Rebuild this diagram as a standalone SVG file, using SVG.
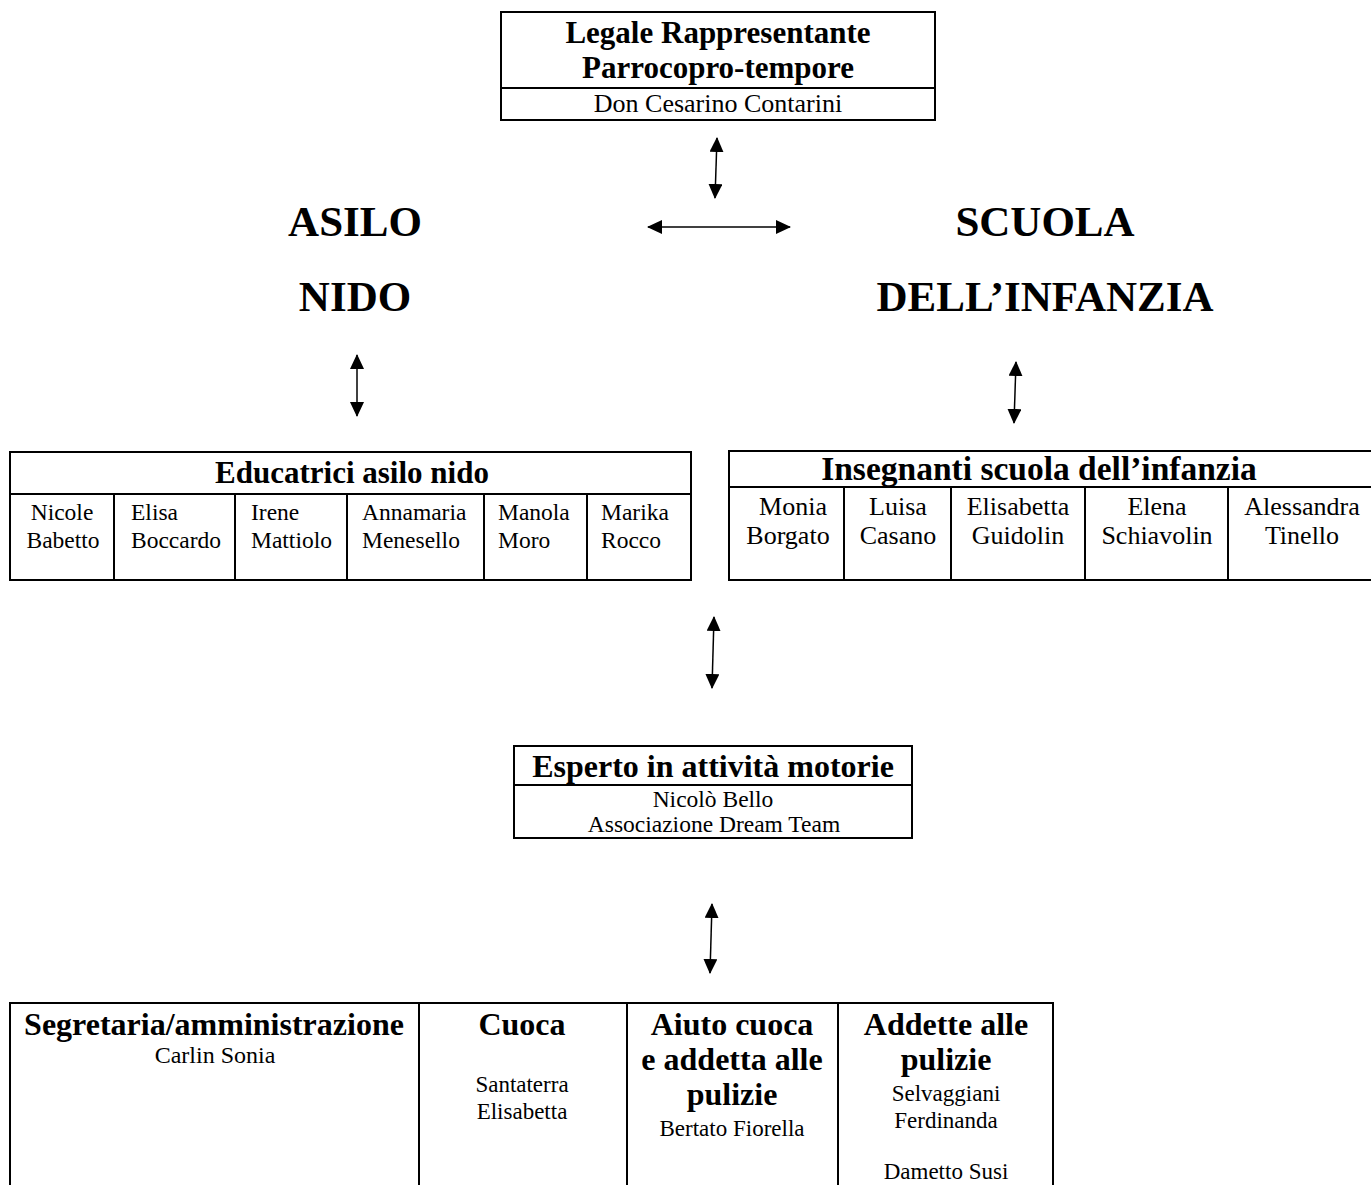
<svg xmlns="http://www.w3.org/2000/svg" width="1371" height="1185" viewBox="0 0 1371 1185">
<defs>
<style>
.box{fill:#fff;stroke:#000;stroke-width:2}
.ln{stroke:#000;stroke-width:2;fill:none}
.t{font-family:"Liberation Serif","Times New Roman",serif;fill:#000}
.b{font-weight:bold}
.h1{font-size:43px;font-weight:bold}
.h2{font-size:32px;font-weight:bold}
.c{text-anchor:middle}
.con{stroke:#000;stroke-width:1.5;fill:none;marker-start:url(#ah);marker-end:url(#ah)}
</style>
<marker id="ah" viewBox="0 0 15 14" refX="14" refY="7" markerWidth="15" markerHeight="14" markerUnits="userSpaceOnUse" orient="auto-start-reverse">
<path d="M0,0 L15,7 L0,14 z" fill="#000"/>
</marker>
</defs>

<g id="legale">
<rect class="box" x="501" y="12" width="434" height="108"/>
<line class="ln" x1="501" y1="88" x2="935" y2="88"/>
<text class="t b c" style="font-size:31px" x="718" y="43">Legale Rappresentante</text>
<text class="t b c" style="font-size:31px" x="718" y="78">Parrocopro-tempore</text>
<text class="t c" style="font-size:26px" x="718" y="112">Don Cesarino Contarini</text>
</g>

<g id="asilo">
<text class="t h1 c" x="355" y="236">ASILO</text>
<text class="t h1 c" x="355" y="311">NIDO</text>
</g>

<g id="scuola">
<text class="t h1 c" x="1045" y="236">SCUOLA</text>
<text class="t h1 c" x="1045" y="311">DELL’INFANZIA</text>
</g>

<g id="educatrici" style="font-size:23.5px">
<rect class="box" x="10" y="452" width="681" height="128"/>
<line class="ln" x1="10" y1="494" x2="691" y2="494"/>
<line class="ln" x1="114" y1="494" x2="114" y2="580"/>
<line class="ln" x1="235" y1="494" x2="235" y2="580"/>
<line class="ln" x1="347" y1="494" x2="347" y2="580"/>
<line class="ln" x1="484" y1="494" x2="484" y2="580"/>
<line class="ln" x1="587" y1="494" x2="587" y2="580"/>
<text class="t b c" style="font-size:31px" x="352" y="483">Educatrici asilo nido</text>
<text class="t c" x="62" y="520">Nicole</text>
<text class="t c" x="63" y="548">Babetto</text>
<text class="t" x="131" y="520">Elisa</text>
<text class="t" x="131" y="548">Boccardo</text>
<text class="t" x="251" y="520">Irene</text>
<text class="t" x="251" y="548">Mattiolo</text>
<text class="t" x="362" y="520">Annamaria</text>
<text class="t" x="362" y="548">Menesello</text>
<text class="t" x="498" y="520">Manola</text>
<text class="t" x="498" y="548">Moro</text>
<text class="t" x="601" y="520">Marika</text>
<text class="t" x="601" y="548">Rocco</text>
</g>

<g id="insegnanti" style="font-size:26px">
<rect class="box" x="729" y="451" width="650" height="129"/>
<line class="ln" x1="729" y1="487" x2="1371" y2="487"/>
<line class="ln" x1="844" y1="487" x2="844" y2="580"/>
<line class="ln" x1="951" y1="487" x2="951" y2="580"/>
<line class="ln" x1="1085" y1="487" x2="1085" y2="580"/>
<line class="ln" x1="1228" y1="487" x2="1228" y2="580"/>
<text class="t b c" style="font-size:33.5px" x="1039" y="480">Insegnanti scuola dell’infanzia</text>
<text class="t c" x="793" y="515">Monia</text>
<text class="t c" x="788" y="544">Borgato</text>
<text class="t c" x="898" y="515">Luisa</text>
<text class="t c" x="898" y="544">Casano</text>
<text class="t c" x="1018" y="515">Elisabetta</text>
<text class="t c" x="1018" y="544">Guidolin</text>
<text class="t c" x="1157" y="515">Elena</text>
<text class="t c" x="1157" y="544">Schiavolin</text>
<text class="t c" x="1302" y="515">Alessandra</text>
<text class="t c" x="1302" y="544">Tinello</text>
</g>

<g id="esperto">
<rect class="box" x="514" y="746" width="398" height="92"/>
<line class="ln" x1="514" y1="785" x2="912" y2="785"/>
<text class="t h2 c" x="713" y="777">Esperto in attività motorie</text>
<text class="t c" style="font-size:23.5px" x="713" y="807">Nicolò Bello</text>
<text class="t c" style="font-size:23.5px" x="714" y="832">Associazione Dream Team</text>
</g>

<g id="personale" style="font-size:23px">
<rect class="box" x="10" y="1003" width="1043" height="200"/>
<line class="ln" x1="419" y1="1003" x2="419" y2="1185"/>
<line class="ln" x1="627" y1="1003" x2="627" y2="1185"/>
<line class="ln" x1="838" y1="1003" x2="838" y2="1185"/>
<text class="t h2 c" x="214" y="1035">Segretaria/amministrazione</text>
<text class="t c" style="font-size:24px" x="215" y="1063">Carlin Sonia</text>
<text class="t h2 c" x="522" y="1035">Cuoca</text>
<text class="t c" x="522" y="1092">Santaterra</text>
<text class="t c" x="522" y="1119">Elisabetta</text>
<text class="t h2 c" x="732" y="1035">Aiuto cuoca</text>
<text class="t h2 c" x="732" y="1070">e addetta alle</text>
<text class="t h2 c" x="732" y="1105">pulizie</text>
<text class="t c" x="732" y="1136">Bertato Fiorella</text>
<text class="t h2 c" x="946" y="1035">Addette alle</text>
<text class="t h2 c" x="946" y="1070">pulizie</text>
<text class="t c" x="946" y="1101">Selvaggiani</text>
<text class="t c" x="946" y="1128">Ferdinanda</text>
<text class="t c" x="946" y="1179">Dametto Susi</text>
</g>

<g id="connectors">
<line class="con" x1="717" y1="138" x2="715" y2="198"/>
<line class="con" x1="648" y1="227" x2="790" y2="227"/>
<line class="con" x1="357" y1="355" x2="357" y2="416"/>
<line class="con" x1="1016" y1="362" x2="1014" y2="423"/>
<line class="con" x1="714" y1="617" x2="712" y2="688"/>
<line class="con" x1="712" y1="904" x2="710" y2="973"/>
</g>
</svg>
